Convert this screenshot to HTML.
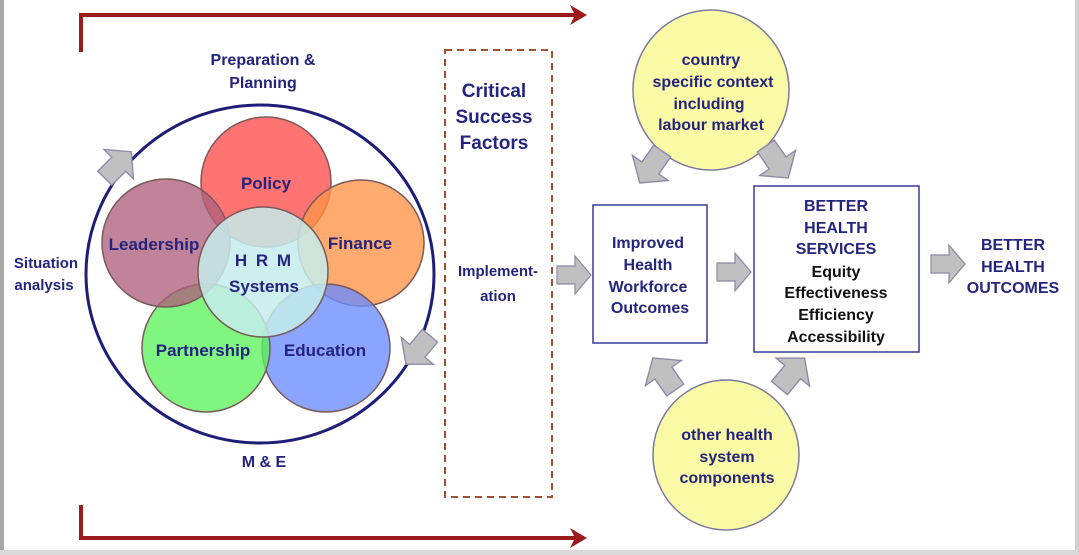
<!DOCTYPE html>
<html><head><meta charset="utf-8"><style>
html,body{margin:0;padding:0;background:#fff;}
svg{display:block;}
text{font-family:"Liberation Sans",Arial,sans-serif;font-weight:bold;fill:#24247e;}
</style></head><body>
<svg width="1079" height="555" viewBox="0 0 1079 555" xmlns="http://www.w3.org/2000/svg">
<defs>
<g id="ba"><polygon points="-17,-9 1,-9 1,-19 17,0 1,19 1,9 -17,9" fill="#c0c0c0" stroke="#8a8aa8" stroke-width="1.2"/></g>
</defs>
<rect x="0" y="0" width="1079" height="555" fill="#fff"/>
<rect x="0" y="0" width="4" height="555" fill="#a8a8a8"/>
<rect x="1075" y="0" width="4" height="555" fill="#d0d0d0"/>
<rect x="0" y="550" width="1079" height="5" fill="#dadada"/>
<path d="M81,52 V15 H575" fill="none" stroke="#9b1b1b" stroke-width="4"/>
<polygon points="570,5 587,15 570,25 575,15" fill="#9b1b1b"/>
<path d="M81,505 V538 H575" fill="none" stroke="#9b1b1b" stroke-width="4"/>
<polygon points="570,528 587,538 570,548 575,538" fill="#9b1b1b"/>
<ellipse cx="260" cy="274" rx="174" ry="169" fill="none" stroke="#1e1e78" stroke-width="3"/>
<use href="#ba" transform="translate(118,165) rotate(-45) scale(1.1)"/>
<use href="#ba" transform="translate(418,350) rotate(130) scale(1.1)"/>
<g stroke="#7a5a5a" stroke-width="1.5" fill-opacity="0.78">
<circle cx="266" cy="182" r="65" fill="#ff4c4c"/>
<circle cx="361" cy="243" r="63" fill="#ff9448"/>
<circle cx="326" cy="348" r="64" fill="#6a8cff"/>
<circle cx="206" cy="348" r="64" fill="#5cf25c"/>
<circle cx="166" cy="243" r="64" fill="#b0607e"/>
<circle cx="263" cy="272" r="65" fill="#c6ecec" fill-opacity="0.85"/>
</g>
<g text-anchor="middle" font-size="17">
<text x="266" y="189">Policy</text>
<text x="360" y="249">Finance</text>
<text x="325" y="356">Education</text>
<text x="203" y="356">Partnership</text>
<text x="154" y="250">Leadership</text>
<text x="264" y="266" letter-spacing="2">H R M</text>
<text x="264" y="292">Systems</text>
</g>
<g text-anchor="middle" font-size="16">
<text x="263" y="65">Preparation &amp;</text>
<text x="263" y="88">Planning</text>
<text x="46" y="268" font-size="15">Situation</text>
<text x="44" y="290" font-size="15">analysis</text>
<text x="264" y="467">M &amp; E</text>
</g>
<rect x="445" y="50" width="107" height="447" fill="none" stroke="#a0522d" stroke-width="2" stroke-dasharray="7,5"/>
<g text-anchor="middle" font-size="19">
<text x="494" y="97">Critical</text>
<text x="494" y="123">Success</text>
<text x="494" y="149">Factors</text>
</g>
<g text-anchor="middle" font-size="15">
<text x="498" y="276">Implement-</text>
<text x="498" y="301">ation</text>
</g>
<ellipse cx="711" cy="90" rx="78" ry="80" fill="#fafaa6" stroke="#7a7aa0" stroke-width="1.5"/>
<ellipse cx="726" cy="455" rx="73" ry="75" fill="#fafaa6" stroke="#7a7aa0" stroke-width="1.5"/>
<g text-anchor="middle" font-size="16">
<text x="711" y="65">country</text>
<text x="713" y="87">specific context</text>
<text x="709" y="109">including</text>
<text x="711" y="130">labour market</text>
<text x="727" y="440">other health</text>
<text x="727" y="462">system</text>
<text x="727" y="483">components</text>
</g>
<rect x="593" y="205" width="114" height="138" fill="#fff" stroke="#3a3a9a" stroke-width="1.5"/>
<rect x="754" y="186" width="165" height="166" fill="#fff" stroke="#3a3a9a" stroke-width="1.5"/>
<g text-anchor="middle" font-size="16">
<text x="648" y="248">Improved</text>
<text x="648" y="270">Health</text>
<text x="648" y="292">Workforce</text>
<text x="650" y="313">Outcomes</text>
<text x="836" y="211">BETTER</text>
<text x="836" y="233">HEALTH</text>
<text x="836" y="254">SERVICES</text>
<text x="836" y="277" style="fill:#111">Equity</text>
<text x="836" y="298" style="fill:#111">Effectiveness</text>
<text x="836" y="320" style="fill:#111">Efficiency</text>
<text x="836" y="342" style="fill:#111">Accessibility</text>
<text x="1013" y="250">BETTER</text>
<text x="1013" y="272">HEALTH</text>
<text x="1013" y="293">OUTCOMES</text>
</g>
<use href="#ba" transform="translate(574,275)"/>
<use href="#ba" transform="translate(734,272)"/>
<use href="#ba" transform="translate(948,264)"/>
<use href="#ba" transform="translate(651,167) rotate(125) scale(1.15)"/>
<use href="#ba" transform="translate(777,162) rotate(55) scale(1.15)"/>
<use href="#ba" transform="translate(664,374) rotate(-125) scale(1.15)"/>
<use href="#ba" transform="translate(792,373) rotate(-50) scale(1.15)"/>
</svg>
</body></html>
